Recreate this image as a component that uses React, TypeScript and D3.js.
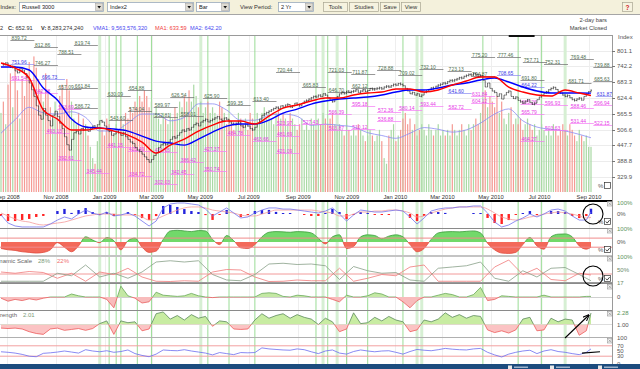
import React from 'react';
import * as d3 from 'd3';

// Russell 3000, 2-day bars, late Aug 2008 .. early Sep 2010
const closes = [
  752, 748, 755, 745, 738, 742, 725, 718, 735, 728,
  715, 700, 680, 655, 630, 595, 560, 545, 585, 560,
  540, 520, 560, 575, 555, 530, 510, 480, 450, 430,
  470, 495, 500, 490, 510, 505, 515, 500, 510, 520,
  515, 525, 540, 535, 520, 505, 500, 485, 490, 500,
  495, 485, 495, 480, 470, 460, 455, 440, 430, 425,
  415, 405, 395, 385, 395, 410, 420, 440, 450, 455,
  450, 460, 470, 480, 475, 485, 495, 505, 500, 510,
  505, 515, 525, 530, 520, 535, 540, 545, 535, 540,
  545, 550, 555, 545, 540, 550, 545, 535, 530, 525,
  530, 535, 520, 515, 525, 520, 510, 505, 515, 530,
  545, 560, 565, 570, 575, 580, 585, 590, 585, 595,
  590, 598, 600, 590, 595, 605, 600, 595, 605, 612,
  615, 620, 625, 630, 628, 635, 630, 640, 635, 625,
  615, 610, 620, 630, 640, 645, 640, 650, 645, 648,
  650, 655, 645, 650, 655, 648, 652, 660, 655, 658,
  660, 662, 658, 665, 668, 665, 670, 675, 672, 678,
  675, 670, 660, 650, 640, 645, 635, 640, 630, 635,
  645, 650, 655, 662, 660, 668, 672, 675, 680, 678,
  685, 690, 688, 692, 695, 700, 698, 705, 708, 712,
  710, 715, 712, 705, 708, 690, 665, 680, 660, 650,
  645, 630, 640, 620, 635, 645, 650, 630, 622, 628,
  615, 610, 605, 612, 618, 608, 600, 605, 618, 628,
  635, 642, 648, 655, 660, 664, 656, 648, 642, 635,
  630, 634, 625, 618, 615, 620, 624, 616, 630, 640, 648, 653,
];

// volume per bar, billions of shares
const volumes = [
  14, 16, 12, 19, 21, 15, 22, 18, 13, 20,
  17, 21, 23, 19, 24, 22, 20, 18, 16, 21,
  18, 15, 13, 16, 14, 17, 19, 15, 20, 18,
  16, 13, 12, 14, 11, 13, 12, 10, 8, 6,
  5, 9, 12, 11, 10, 13, 12, 11, 10, 12,
  11, 13, 12, 14, 13, 15, 14, 16, 15, 17,
  16, 18, 17, 15, 16, 14, 15, 13, 12, 14,
  13, 12, 14, 13, 15, 14, 16, 15, 17, 16,
  18, 16, 19, 17, 15, 16, 14, 15, 16, 14,
  15, 14, 13, 16, 15, 14, 12, 13, 12, 11,
  12, 14, 13, 12, 13, 11, 14, 13, 12, 14,
  13, 14, 15, 13, 14, 13, 12, 14, 15, 13,
  14, 13, 12, 14, 13, 12, 11, 12, 13, 11,
  12, 11, 13, 12, 11, 13, 12, 14, 13, 12,
  13, 14, 12, 11, 12, 11, 10, 12, 11, 10,
  11, 10, 12, 11, 10, 9, 10, 11, 10, 9,
  10, 11, 9, 6, 5, 10, 11, 12, 9, 10,
  11, 13, 14, 12, 13, 11, 12, 10, 11, 12,
  11, 10, 12, 11, 10, 11, 12, 10, 11, 10,
  11, 10, 12, 11, 10, 11, 12, 11, 10, 12,
  11, 12, 13, 12, 14, 16, 18, 15, 17, 16,
  15, 17, 14, 16, 13, 12, 14, 15, 12, 13,
  12, 13, 11, 12, 13, 12, 11, 12, 10, 11,
  12, 11, 10, 11, 10, 12, 11, 10, 11, 12,
  11, 10, 12, 11, 10, 9, 11, 10, 9, 10, 8, 8,
];

// moving averages, read every 6 bars
const ma1 = [754.5, 735.9, 698.6, 579.3, 545.7, 504.7, 504.7, 512.2, 501, 486.1,
  460, 418.9, 448.8, 471.2, 501, 523.4, 538.3, 538.3, 527.1, 556.9,
  586.7, 598, 612.9, 624.1, 624.1, 635.2, 642.7, 646.4, 657.6, 657.6,
  646.4, 653.8, 672.5, 687.4, 702.3, 702.3, 665, 646.4, 635.2, 631.5,
  653.8, 642.7, 633.6];
const ma2 = [739.6, 739.6, 728.4, 661.3, 616.6, 545.7, 515.9, 512.2, 508.5, 501,
  482.4, 463.7, 456.3, 448.8, 471.2, 497.3, 519.6, 527.1, 527.1, 542,
  568.1, 583, 601.6, 612.9, 620.3, 624.1, 627.7, 635.2, 646.4, 653.8,
  653.8, 661.3, 672.5, 680, 691.1, 698.6, 683.7, 665, 650.1, 642.7,
  642.7, 642.7, 642.2];
const vma1 = [10.4, 12.8, 15, 14, 13.8, 14.2, 13.2, 10.8, 10.8, 12.2,
  13.8, 13.8, 12.6, 13.2, 15.6, 15.6, 14.5, 12.7, 12.7, 13.6,
  13.8, 13.4, 11.8, 12, 11.8, 11.5, 10.5, 10, 9.5, 10.4,
  11.4, 11.1, 10.6, 11, 12.2, 13.8, 14.7, 12.6, 11.5, 11.1,
  10.8, 10.2, 9.6];

// studies, read every 3 bars
const macdLine = [-9, -82, -109, -118, -118, -118, -118, -91, -55, -27,
  -45, 0, 36, 9, -9, 18, -18, -9, 9, -18,
  -64, -109, -64, 55, 91, 100, 100, 91, 82, 45,
  -18, 18, 55, 9, -36, -27, 9, 36, 55, 55,
  45, 45, 36, 27, 18, 9, 27, 55, 0, -64,
  -9, 36, 27, 18, 18, 27, 36, 27, -27, -91,
  -36, 27, 45, 55, 55, 64, 64, 73, 73, 9,
  -73, -118, -100, -64, -36, 0, -27, 0, 36, 45,
  27, -18, -55, -55, 18];
const macdSignal = [9, -18, -45, -64, -73, -91, -100, -91, -82, -73,
  -55, -36, -18, -9, 0, 0, 0, -9, -9, -9,
  -27, -55, -45, -18, 9, 36, 55, 64, 64, 55,
  36, 27, 18, 9, -9, -18, -18, 0, 18, 36,
  36, 36, 36, 36, 36, 27, 18, 9, -18, -18,
  0, 18, 18, 27, 27, 36, 36, 27, 9, -27,
  -18, 9, 27, 45, 55, 64, 64, 64, 64, 45,
  9, -27, -45, -55, -45, -27, -18, 0, 9, 18,
  9, 0, -18, -36, -30];
const oscillator = [-50, -60, -65, -75, -80, -85, -80, -60, -5, -40,
  -75, -30, 40, 15, -5, 35, 10, -60, 10, 30,
  -40, -80, -70, 20, 85, 90, 85, 80, 88, 85,
  20, -20, 50, 10, -45, -50, -20, 40, 75, 80,
  78, 75, 80, 78, 70, 30, -15, 40, 55, -50,
  -35, 40, 55, 50, 25, 45, 55, 40, -20, -75,
  -50, 20, 70, 78, 80, 78, 82, 85, 70, -10,
  -60, -85, -88, -80, -20, 35, -30, -55, 40, 60,
  62, 40, -30, -55, -40];
// dynamic scale, read every 6 bars
const dynGray = [3, 3, 3, 3, 35, 25, 68, 20, 35, 15,
  40, 80, 85, 80, 85, 30, 8, 5, 30, 72,
  75, 70, 72, 65, 10, 62, 45, 35, 38, 8,
  3, 55, 60, 65, 80, 15, 3, 45, 20, 55,
  58, 30, 5];
const dynRed = [40, 35, 42, 38, 15, 35, 3, 40, 30, 55,
  20, 3, 2, 5, 3, 40, 50, 48, 20, 2,
  3, 8, 5, 5, 55, 3, 15, 30, 25, 60,
  68, 3, 3, 3, 3, 60, 88, 30, 55, 10,
  5, 35, 28];
const momentum = [-10, -35, -20, -30, -15, -25, -10, 0, 0, 0,
  25, 10, 0, 0, 0, -20, -90, 90, 10, -10,
  -50, -40, 40, 15, 10, 5, 10, 30, 10, 0,
  -5, 0, 0, 0, 0, 0, 0, 30, 35, 30,
  5, 0, 15, 10, 0, 0, 0, -20, -40, 15,
  0, 0, 10, 35, 25, 0, 0, -40, -90, -30,
  0, 0, 15, 30, 20, 0, 0, 20, 80, -30,
  -20, 10, 5, 0, 0, 0, 0, 15, 0, 0,
  0, 0, 0, 5, 5];
const strength = [0.6, 0.55, 0.6, 0.5, 0.2, 0.0, -0.1, 0.5, 0.6, 0.35,
  0.45, 0.55, 0.35, 0.55, 1.1, 1.4, -0.1, 1.4, 1.2, 1.3,
  0.3, 0.5, 2.2, 2.4, 1.6, 2.0, 1.5, 2.1, 1.7, 1.9,
  0.8, 1.4, 1.3, 0.5, 0.45, 0.5, 1.5, 2.2, 1.7, 2.0,
  2.2, 1.7, 2.1, 1.8, 1.6, 1.0, 1.7, 1.3, 0.2, 0.5,
  2.3, 1.1, 1.2, 1.8, 1.4, 1.9, 1.5, 1.3, 0.2, 0.4,
  1.5, 1.3, 1.6, 2.3, 1.8, 2.1, 1.7, 2.0, 1.9, 0.4,
  0.1, 0.3, 0.05, 0.4, 1.6, 1.8, 0.3, 0.4, 1.7, 1.3,
  1.6, 1.5, -0.2, 0.3, 2.28];
const rsi = [47, 45, 42, 37, 30, 28, 41, 43, 46, 50,
  46, 42, 55, 50, 47, 51, 45, 48, 54, 40,
  33, 28, 38, 54, 52, 51, 55, 50, 46, 42,
  35, 44, 40, 36, 44, 43, 44, 62, 58, 56,
  54, 53, 58, 55, 47, 40, 50, 54, 42, 38,
  48, 54, 50, 47, 50, 51, 45, 38, 48, 56,
  53, 51, 55, 60, 57, 55, 54, 58, 60, 45,
  35, 27, 38, 45, 50, 53, 40, 50, 55, 48,
  45, 40, 36, 45, 58];

// signal days (bar index)
const signalBars = [46, 49, 51, 58, 64, 88, 97, 108, 134, 139, 147, 156, 171, 205, 220, 230];
const paleBars = [42, 85, 137, 143, 177, 179, 240];

// swing labels: [bar index, value]
const highLabels = [
  [4, 839.72], [14, 812.86], [31, 819.74], [24, 788.51], [14, 746.27], [24, 657.09], [31, 661.84],
  [31, 586.72], [45, 630.09], [54, 654.88], [54, 574.04], [65, 589.97], [72, 626.54], [86, 625.9],
  [65, 552.81], [76, 558.01], [46, 543.6], [96, 599.35], [117, 720.44], [139, 721.03], [149, 711.87],
  [160, 728.88], [169, 709.02], [128, 665.83], [149, 662.12], [139, 646.7], [107, 613.4], [178, 732.1],
  [200, 775.2], [211, 777.46], [222, 757.71], [231, 752.31], [242, 769.48], [252, 739.88], [190, 723.13],
  [200, 704.87], [221, 691.8], [252, 685.63], [241, 681.71],
];
const lowLabels = [
  [4, 691.54], [14, 642.38], [24, 583.69], [19, 493.13], [24, 392.61], [36, 345.44], [45, 441.15],
  [54, 334.72], [65, 302.03], [72, 342.45], [76, 386.42], [86, 350.74], [54, 425.49], [65, 421.65],
  [86, 427.37], [149, 595.18], [139, 566.39], [128, 527.43], [139, 503.87], [149, 510.12], [160, 536.88],
  [160, 572.36], [169, 580.14], [107, 463.66], [96, 484.78], [117, 481.69], [117, 421.09], [117, 523.97],
  [200, 631.84], [200, 604.12], [178, 593.44], [190, 582.72], [221, 603.26], [231, 596.93], [242, 588.46],
  [221, 565.79], [252, 596.94], [252, 522.15], [242, 531.44], [231, 503.63], [221, 464.27],
];
const avgLabels = [[4, 751.96], [17, 696.73], [253, 631.87], [221, 664.22], [190, 641.6], [211, 708.65]];

const priceTicks = [801.1, 742.2, 683.3, 624.4, 565.5, 506.6, 447.7, 388.8, 329.9];

const FONT = 'Liberation Sans, Arial, Helvetica, sans-serif';
const R = 612; // right edge of plots
const last = closes.length - 1;

const xBar = d3.scaleLinear().domain([0, last]).range([1, 591]);
const xTime = d3.scaleTime().domain([new Date(2008, 10, 1), new Date(2010, 8, 1)]).range([56, 589]);
const yP = d3.scaleLinear().domain([329.9, 801.1]).range([177, 50.5]);
const yV = d3.scaleLinear().domain([0, 30]).range([192, 22.5]);
const yA = d3.scaleLinear().domain([-100, 100]).range([225, 203]);
const yB = d3.scaleLinear().domain([-100, 100]).range([255, 229]);
const yC = d3.scaleLinear().domain([0, 100]).range([282, 257]);
const yD = d3.scaleLinear().domain([-100, 100]).range([309, 285]);
const yE = d3.scaleLinear().domain([1, 2.28]).range([324.5, 313]);
const yF = d3.scaleLinear().domain([0, 100]).range([364, 338]);

const idx6 = ma1.map((_, k) => Math.min(k * 6, last));
const idx3 = rsi.map((_, k) => Math.min(k * 3, last));

function lineOf(vals: number[], idx: number[], y: (v: number) => number, curve: any = d3.curveLinear) {
  return d3.line<number>().x((_, k) => xBar(idx[k])).y(d => y(d)).curve(curve)(vals) || '';
}

function SplitArea({ id, vals, idx, y, base, top, bottom, pos, neg, posStroke, negStroke, curve }: any) {
  const yb = y(base);
  const area = d3.area<number>().x((_, k) => xBar(idx[k])).y0(yb).y1(d => y(d)).curve(curve)(vals) || '';
  const ln = lineOf(vals, idx, y, curve);
  return (
    <g>
      <clipPath id={id + 'p'}><rect x={0} y={top} width={R} height={yb - top} /></clipPath>
      <clipPath id={id + 'n'}><rect x={0} y={yb} width={R} height={bottom - yb} /></clipPath>
      <g clipPath={`url(#${id}p)`}>
        <path d={area} fill={pos} />
        <path d={ln} fill="none" stroke={posStroke} strokeWidth={0.8} />
      </g>
      <g clipPath={`url(#${id}n)`}>
        <path d={area} fill={neg} />
        <path d={ln} fill="none" stroke={negStroke} strokeWidth={0.8} />
      </g>
    </g>
  );
}

function Select({ x, w, label }: { x: number; w: number; label: string }) {
  return (
    <g>
      <rect x={x + 0.5} y={2.5} width={w} height={9} fill="#fff" stroke="#8a9fb5" strokeWidth={0.7} />
      <text x={x + 3} y={9.3} fontSize={5.6} fill="#222">{label}</text>
      <rect x={x + w - 7.5} y={3.3} width={7.3} height={7.4} fill="#dedbd2" stroke="#a0a0a0" strokeWidth={0.5} />
      <path d={`M${x + w - 5.6},6 h3.6 l-1.8,2.4z`} fill="#111" />
    </g>
  );
}

function Button({ x, w, label }: { x: number; w: number; label: string }) {
  return (
    <g>
      <rect x={x + 0.5} y={2.5} width={w} height={9} fill="#f6f3e0" stroke="#a8a592" strokeWidth={0.7} />
      <text x={x + w / 2 + 0.5} y={9.3} fontSize={5.8} fill="#333" textAnchor="middle">{label}</text>
    </g>
  );
}

function Labels({ items, text, line, dx = 0 }: { items: number[][]; text: string; line: string; dx?: number }) {
  return (
    <g>
      {items.map(([i, v], k) => {
        const x0 = xBar(i) + dx;
        const y = Math.round(yP(v)) + 0.5;
        return (
          <g key={k}>
            <line x1={x0} x2={x0 + 24} y1={y} y2={y} stroke={line} strokeWidth={0.7} />
            <text x={x0 + 1} y={y - 1} fontSize={5} fill={text}>{v.toFixed(2)}</text>
          </g>
        );
      })}
    </g>
  );
}

export default function App() {
  const months = d3.timeMonth.every(2)!.range(new Date(2008, 8, 1), new Date(2010, 9, 1));
  const fmt = d3.timeFormat('%b %Y');
  const hist = macdLine.map((v, k) => v - macdSignal[k]);
  const xl = xBar(last);

  const rightLabels: [number, string, string][] = [
    [yA(100), '100%', '#5c945c'], [yA(0), '0%', '#555'],
    [yB(100), '100%', '#5c945c'], [yB(0), '0%', '#555'],
    [yC(100), '100%', '#5c945c'], [yC(50), '50%', '#6a8a6a'], [283, '17', '#6a8a6a'],
    [yD(0), '0', '#555'],
    [yE(2.28), '2.28', '#5c945c'], [yE(1), '1.00', '#555'],
    [yF(100), '100', '#555'], [yF(70), '70', '#555'], [yF(50), '50', '#555'], [yF(30), '30', '#555'], [yF(0), '0', '#555'],
  ];
  const panelTops = [201, 228, 256, 284, 311, 338];

  return (
    <svg width={640} height={369} style={{ position: 'absolute', left: 0, top: 0, background: '#fff' }} fontFamily={FONT}>
      <defs>
        <clipPath id="mainClip"><rect x={0} y={35.5} width={R} height={156.5} /></clipPath>
        <clipPath id="panelClip"><rect x={0} y={202} width={R} height={162} /></clipPath>
        <marker id="arrow" viewBox="0 0 10 10" refX={9} refY={5} markerWidth={6} markerHeight={6} orient="auto">
          <path d="M0,1 L10,5 L0,9" fill="none" stroke="#000" strokeWidth={1.5} />
        </marker>
      </defs>

      {/* toolbar */}
      <rect x={0} y={0} width={640} height={14} fill="#f4f1dc" />
      <line x1={0} x2={640} y1={14.5} y2={14.5} stroke="#a5a5a5" />
      <text x={16} y={9.3} fontSize={5.8} textAnchor="end" fill="#333">Index:</text>
      <Select x={19} w={84} label="Russell 3000" />
      <Select x={107} w={86} label="Index2" />
      <Select x={196} w={33} label="Bar" />
      <text x={240} y={9.3} fontSize={5.8} fill="#333">View Period:</text>
      <Select x={278} w={35} label="2 Yr" />
      <Button x={323} w={24} label="Tools" />
      <Button x={349} w={29} label="Studies" />
      <Button x={380} w={19} label="Save" />
      <Button x={401} w={19} label="View" />
      <rect x={622.5} y={2.5} width={10} height={9} fill="#f6f3e0" stroke="#a8a592" strokeWidth={0.7} />
      <text x={627.5} y={9.6} fontSize={6.5} textAnchor="middle" fill="#d02020" fontWeight="bold">?</text>

      {/* info row */}
      <text y={30} fontSize={5.6} fill="#333">
        <tspan x={0}>2</tspan>
        <tspan x={8} fontWeight="bold">C:</tspan>
        <tspan x={15.5}>652.91</tspan>
        <tspan x={41} fontWeight="bold">V:</tspan>
        <tspan x={47.5}>8,283,274,240</tspan>
        <tspan x={93} fill="#4848f0">VMA1: 9,563,576,320</tspan>
        <tspan x={155} fill="#f03c3c">MA1: 633.59</tspan>
        <tspan x={190} fill="#4848f0">MA2: 642.20</tspan>
      </text>
      <text x={607} y={22} fontSize={5.8} textAnchor="end" fill="#444">2-day bars</text>
      <text x={607} y={30} fontSize={5.8} textAnchor="end" fill="#444">Market Closed</text>

      {/* frames */}
      <line x1={0} x2={R} y1={35.5} y2={35.5} stroke="#9a9a9a" />
      <line x1={R + 0.5} x2={R + 0.5} y1={35} y2={364} stroke="#9a9a9a" />
      <text x={618} y={39} fontSize={6} fill="#555">Index</text>

      {/* grid */}
      {priceTicks.map(t => (
        <g key={t}>
          <line x1={0} x2={R} y1={Math.round(yP(t)) + 0.5} y2={Math.round(yP(t)) + 0.5} stroke="#ececec" />
          <line x1={R} x2={R + 3} y1={Math.round(yP(t)) + 0.5} y2={Math.round(yP(t)) + 0.5} stroke="#777" />
          <text x={617} y={yP(t) + 2} fontSize={6} fill="#555">{t.toFixed(1)}</text>
        </g>
      ))}
      {months.map(m => (
        <g key={+m}>
          <line x1={Math.round(xTime(m)) + 0.5} x2={Math.round(xTime(m)) + 0.5} y1={36} y2={192} stroke="#eeeeee" />
          <line x1={Math.round(xTime(m)) + 0.5} x2={Math.round(xTime(m)) + 0.5} y1={202} y2={364} stroke="#eeeeee" />
          <text x={xTime(m)} y={199} fontSize={5.8} textAnchor="middle" fill="#333">{fmt(m)}</text>
        </g>
      ))}

      {/* signal lines */}
      {paleBars.map(i => (
        <g key={'p' + i}>
          <line x1={xBar(i)} x2={xBar(i)} y1={36} y2={192} stroke="#d6efd3" strokeWidth={3} />
          <line x1={xBar(i)} x2={xBar(i)} y1={202} y2={364} stroke="#d6efd3" strokeWidth={3} />
        </g>
      ))}
      {signalBars.map(i => (
        <g key={'s' + i}>
          <line x1={xBar(i)} x2={xBar(i)} y1={36} y2={192} stroke="#8fd88a" strokeWidth={0.9} />
          <line x1={xBar(i)} x2={xBar(i)} y1={202} y2={364} stroke="#8fd88a" strokeWidth={0.9} />
        </g>
      ))}

      {/* main price panel */}
      <g clipPath="url(#mainClip)">
        {volumes.map((v, i) => {
          const up = i === 0 || closes[i] >= closes[i - 1];
          return (
            <rect key={i} x={xBar(i) - 0.6} width={1.2} y={yV(v)} height={yV(0) - yV(v)}
              fill={up ? '#a9d9a4' : '#f59a94'} />
          );
        })}
        <path d={lineOf(vma1, idx6, yV, d3.curveMonotoneX)} fill="none" stroke="#8c8cf4" strokeWidth={0.8} />
        <Labels items={lowLabels} text="#e63ce6" line="#f57af5" />
        <Labels items={highLabels} text="#4f6f4f" line="#6b6b6b" />
        <Labels items={avgLabels} text="#3b3be6" line="#8a8af0" />
        {closes.map((c, i) => {
          if (i === 0) return null;
          const p = closes[i - 1];
          let y1 = yP(Math.max(p, c));
          let y2 = yP(Math.min(p, c));
          if (y2 - y1 < 3) { const m = (y1 + y2) / 2; y1 = m - 1.5; y2 = m + 1.5; }
          const x = xBar(i);
          return (
            <g key={i} stroke="#333" strokeWidth={0.7}>
              <line x1={x} x2={x} y1={y1} y2={y2} />
              <line x1={x - 1} x2={x} y1={yP(p)} y2={yP(p)} />
              <line x1={x} x2={x + 1} y1={yP(c)} y2={yP(c)} />
            </g>
          );
        })}
        <path d={lineOf(ma2, idx6, yP, d3.curveMonotoneX)} fill="none" stroke="#0000ff" strokeWidth={1.4} />
        <path d={lineOf(ma1, idx6, yP, d3.curveMonotoneX)} fill="none" stroke="#ff0000" strokeWidth={1.4} />
      </g>
      <line x1={xBar(216)} x2={xBar(227)} y1={36} y2={36} stroke="#111" strokeWidth={2} />
      <text x={598} y={188} fontSize={6} fill="#555">%</text>
      <rect x={604.5} y={182.5} width={6} height={6} fill="#fff" stroke="#333" strokeWidth={0.7} />

      {/* panel separators */}
      <line x1={0} x2={R} y1={201} y2={201} stroke="#000" strokeWidth={2} />
      <line x1={0} x2={R} y1={228.5} y2={228.5} stroke="#8a8a8a" />
      <line x1={0} x2={R} y1={256} y2={256} stroke="#c4c4c4" strokeWidth={2} />
      <line x1={0} x2={R} y1={283.5} y2={283.5} stroke="#8a8a8a" />
      <line x1={0} x2={R} y1={310.5} y2={310.5} stroke="#8a8a8a" />
      <line x1={0} x2={R} y1={337.5} y2={337.5} stroke="#b0b0b0" />

      <g clipPath="url(#panelClip)">
        {/* panel A: histogram study */}
        {hist.map((h, k) => (
          <rect key={k} x={xBar(idx3[k]) - 1.2} width={2.4} y={Math.min(yA(0), yA(h))}
            height={Math.abs(yA(h) - yA(0))} fill={h >= 0 ? '#2424dc' : '#ff2424'} />
        ))}
        <path d={lineOf(macdSignal, idx3, yA, d3.curveMonotoneX)} fill="none" stroke="#f59a9a" strokeWidth={0.8} />
        <path d={lineOf(macdLine, idx3, yA)} fill="none" stroke="#7474ee" strokeWidth={0.8} />

        {/* panel B: oscillator */}
        <SplitArea id="b" vals={oscillator} idx={idx3} y={yB} base={0} top={229} bottom={255}
          pos="#72d96a" neg="#f3695a" posStroke="#3c9c3c" negStroke="#e04a3c" curve={d3.curveMonotoneX} />
        <line x1={0} x2={R} y1={yB(30)} y2={yB(30)} stroke="#f08a8a" />
        <line x1={0} x2={R} y1={yB(-40)} y2={yB(-40)} stroke="#f08a8a" />

        {/* panel C: dynamic scale */}
        <line x1={0} x2={R} y1={yC(32)} y2={yC(32)} stroke="#f29a9a" />
        <line x1={0} x2={R} y1={282.5} y2={282.5} stroke="#9a9a9a" />
        <path d={lineOf(dynRed, idx6, yC)} fill="none" stroke="#f07a7a" strokeWidth={0.8} />
        <path d={lineOf(dynGray, idx6, yC)} fill="none" stroke="#88a088" strokeWidth={0.8} />

        {/* panel D */}
        <line x1={0} x2={R} y1={yD(0) + 0.5} y2={yD(0) + 0.5} stroke="#d0d0d0" />
        <SplitArea id="d" vals={momentum} idx={idx3} y={yD} base={0} top={284} bottom={310}
          pos="#c4e8a4" neg="#f8bcbc" posStroke="#6aa85a" negStroke="#e86060" curve={d3.curveLinear} />

        {/* panel E: strength */}
        <line x1={0} x2={R} y1={yE(1)} y2={yE(1)} stroke="#dddddd" />
        <SplitArea id="e" vals={strength} idx={idx3} y={yE} base={1} top={311} bottom={337}
          pos="#c8eca2" neg="#fbc3c3" posStroke="#5d8a5d" negStroke="#ee5a5a" curve={d3.curveLinear} />

        {/* panel F: rsi */}
        <line x1={0} x2={R} y1={yF(70)} y2={yF(70)} stroke="#f2a0a0" />
        <line x1={0} x2={R} y1={yF(30)} y2={yF(30)} stroke="#f2a0a0" />
        <path d={lineOf(rsi, idx3, yF)} fill="none" stroke="#6c6cf0" strokeWidth={0.8} />
      </g>

      {/* panel captions */}
      <text x={32} y={263} fontSize={6} textAnchor="end" fill="#666">Dynamic Scale</text>
      <text x={38} y={263} fontSize={6} fill="#7a9a7a">28%</text>
      <text x={57} y={263} fontSize={6} fill="#f07070">22%</text>
      <text x={17} y={317} fontSize={6} textAnchor="end" fill="#666">Strength</text>
      <text x={23} y={317} fontSize={6} fill="#7a9a7a">2.01</text>

      {/* right-hand study scales */}
      {rightLabels.map(([y, t, c], k) => (
        <text key={k} x={617} y={y + 2} fontSize={6} fill={c}>{t}</text>
      ))}
      {panelTops.map(y => (
        <g key={y}>
          <rect x={607.5} y={y + 0.5} width={4.5} height={4.5} fill="#f2f2f2" stroke="#888" strokeWidth={0.5} />
          <path d={`M${608.5},${y + 1.5} l2.5,2.5 M${611},${y + 1.5} l-2.5,2.5`} stroke="#777" strokeWidth={0.5} />
        </g>
      ))}
      {[222, 250, 279].map(y => (
        <g key={y}>
          <text x={598} y={y + 2} fontSize={6} fill="#555">%</text>
          <rect x={604.5} y={y - 3.5} width={6} height={6} fill="#fff" stroke="#333" strokeWidth={0.7} />
          <path d={`M${605.8},${y - 0.5} l1.4,1.6 l2.4,-3`} fill="none" stroke="#111" strokeWidth={0.8} />
        </g>
      ))}

      {/* hand-drawn marks */}
      <circle cx={xl + 2} cy={yA(0)} r={10} fill="none" stroke="#000" strokeWidth={1.1} />
      <circle cx={xl + 2} cy={yC(24)} r={10} fill="none" stroke="#000" strokeWidth={1.1} />
      <line x1={xl - 26} y1={338} x2={xl - 2} y2={315} stroke="#000" strokeWidth={1.1} markerEnd="url(#arrow)" />
      <line x1={xl - 9} y1={yF(42)} x2={xl + 9} y2={yF(47)} stroke="#000" strokeWidth={1.1} />

      {/* status bar */}
      <rect x={0} y={364} width={640} height={5} fill="#1c4c7e" />
      {[508, 550, 598].map(x => (
        <g key={x}>
          <rect x={x} y={365.5} width={4} height={3.5} fill="#e8e8e8" />
          <rect x={x + 6} y={366.5} width={14} height={1.5} fill="#9db4cc" />
        </g>
      ))}
    </svg>
  );
}
